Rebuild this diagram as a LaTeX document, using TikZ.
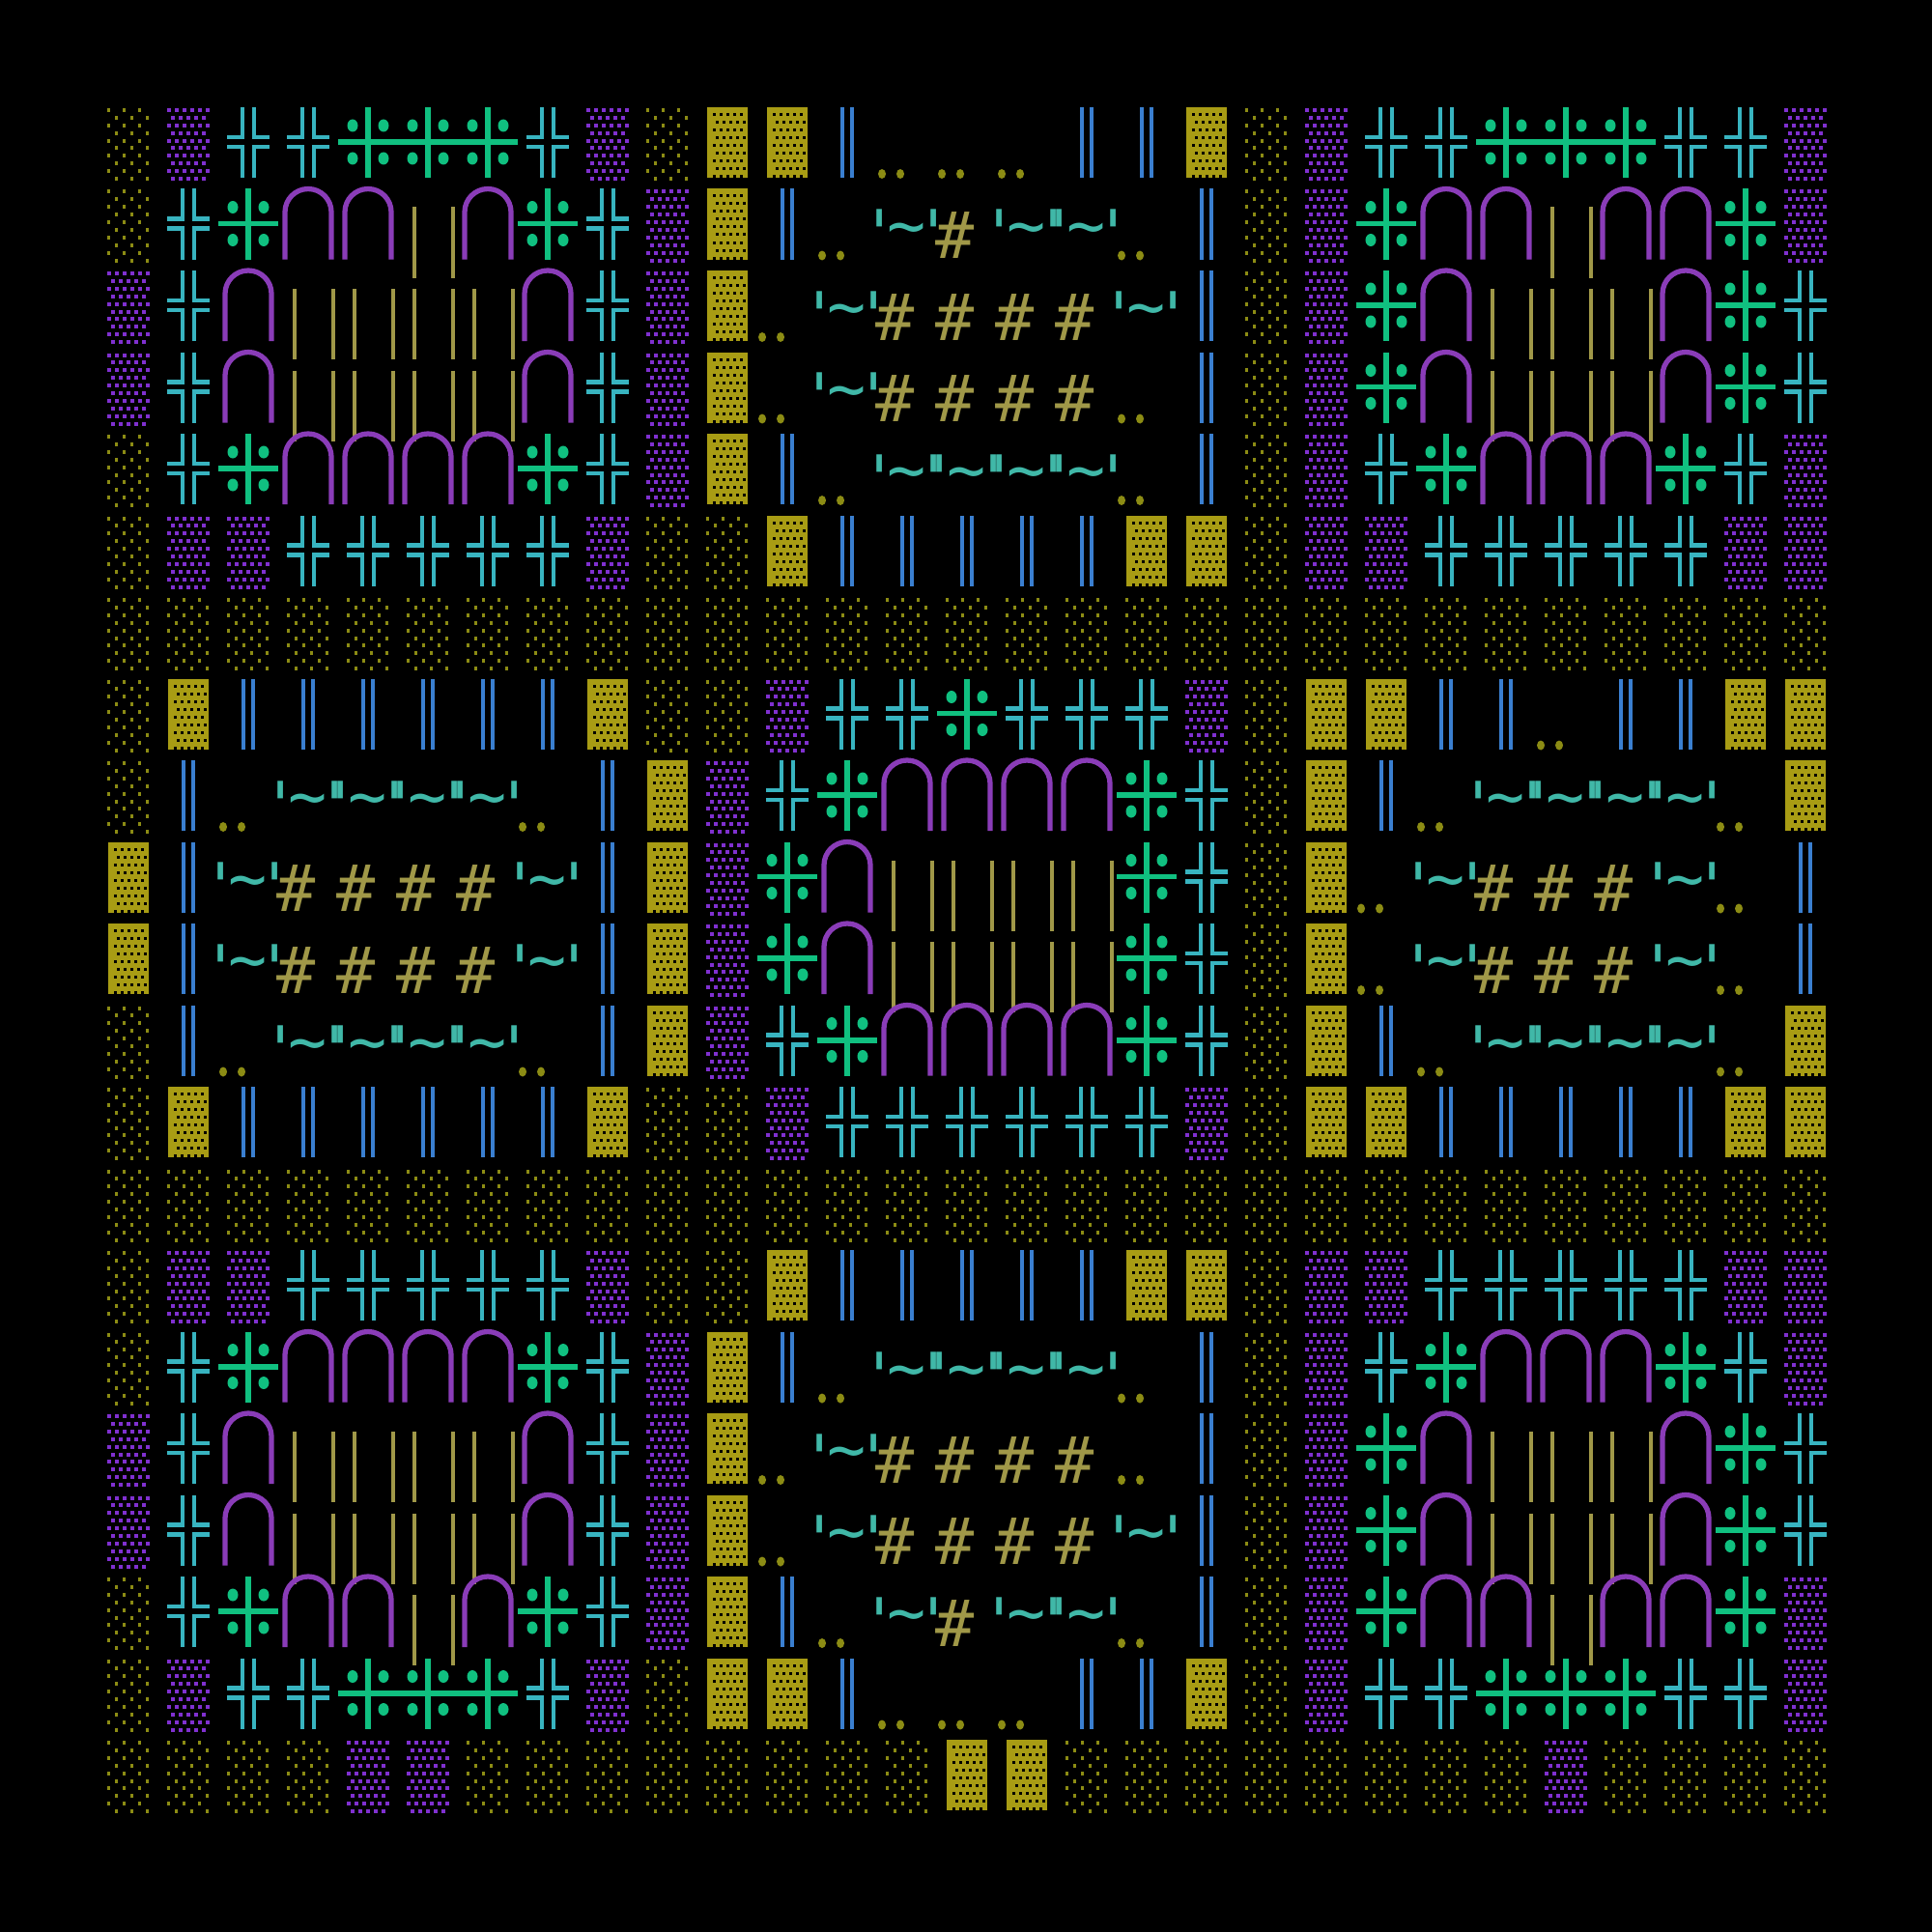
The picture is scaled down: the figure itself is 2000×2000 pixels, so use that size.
\documentclass[tikz,border=0pt]{standalone}
\usepackage{fontspec}
\newfontfamily\glyphfont[Ligatures=TeXOff]{DejaVu Sans Mono}
\definecolor{dotolive}{HTML}{8C8C14}
\definecolor{dotpurple}{HTML}{8030D0}
\definecolor{blockyellow}{HTML}{A89C14}
\definecolor{wallblue}{HTML}{3A7FD0}
\definecolor{crosscyan}{HTML}{38B4C0}
\definecolor{crossgreen}{HTML}{10C080}
\definecolor{archpurple}{HTML}{8A3CB8}
\definecolor{barolive}{HTML}{A09848}
\definecolor{waveteal}{HTML}{40B8A8}
\tikzset{
	glyphtext/.style={inner sep=0pt, font=\glyphfont\fontsize{19}{19}\selectfont},
	quote/.style={glyphtext, anchor=north, text=waveteal},
	wave/.style={glyphtext, text=waveteal},
	hash/.style={glyphtext, anchor=south, text=barolive}
}
% one macro per kind of cell
\newcommand\glyphd{\foreach \i in {0,...,9}{
	\pgfmathsetmacro\yy{-33+7.9*\i}\pgfmathsetmacro\xs{mod(\i,2)*8}
	\foreach \xx in {-21,-5,11}{\fill[dotolive] (\xx+\xs-1.5,\yy-2) rectangle +(3,4);}}}
\newcommand\glyphp{\foreach \i in {0,...,9}{
	\pgfmathsetmacro\yy{-33+7.9*\i}
	\ifodd\i \def\xlist{-16,-8,0,8,16}\else \def\xlist{-20,-12,-4,4,12,20}\fi
	\foreach \xx in \xlist {\fill[dotpurple] (\xx-2,\yy-2) rectangle +(4,4);}}}
\newcommand\glyphY{\fill[blockyellow] (-21,-36) rectangle (21,37);
	\foreach \i in {0,...,8}{\pgfmathsetmacro\yy{-30+8*\i}\pgfmathsetmacro\xs{mod(\i,2)*3}
	\foreach \xx in {-15,-8,-1,6,13}{\fill[black] (\xx+\xs,\yy) rectangle +(3,3);}}}
\newcommand\glyphB{\draw[wallblue, line width=1.3pt] (-5,-36) -- (-5,37) (5,-36) -- (5,37);}
\newcommand\glyphC{\draw[crosscyan, line width=1.4pt]
	(-6,-36) -- (-6,-5) -- (-22,-5) (6,-36) -- (6,-5) -- (22,-5)
	(-6,37) -- (-6,5) -- (-22,5) (6,37) -- (6,5) -- (22,5);}
\newcommand\glyphG{\draw[crossgreen, line width=1.7pt] (-31,0) -- (31,0) (0,-36) -- (0,37);
	\foreach \sx in {-16,16}{\foreach \sy in {-17,17}{\fill[crossgreen] (\sx,\sy) ellipse (5.5 and 6.5);}}}
\newcommand\glyphA{\draw[archpurple, line width=1.5pt] (-24,37) -- (-24,-12) arc (180:360:24) -- (24,37);}
\newcommand\glyphL{\draw[barolive, line width=1.1pt] (-14,-17) -- (-14,56) (26,-17) -- (26,56);}
\newcommand\glyphD{\fill[dotolive] (-26,33) ellipse (4 and 5) (-7,33) ellipse (4 and 5);}
\newcommand\glyphT{\node[quote] (ql\r-\c) at (-28,-15) {'};
	\node[wave] (w\r-\c) at (0,12) {\textasciitilde};
	\node[quote] (qr\r-\c) at (28,-15) {'};}
\newcommand\glyphH{\node[hash] (h\r-\c) at (-12,37) {\#};}

\begin{document}
\begin{tikzpicture}[x=0.01cm, y=-0.01cm]
\fill[black] (0,0) rectangle (2000,2000);
\useasboundingbox (0,0) rectangle (2000,2000);
\foreach \rowlist [count=\r from 0] in {
	{d,p,C,C,G,G,G,C,p,d,Y,Y,B,D,D,D,B,B,Y,d,p,C,C,G,G,G,C,C,p},
	{d,C,G,A,A,L,A,G,C,p,Y,B,D,T,H,T,T,D,B,d,p,G,A,A,L,A,A,G,p},
	{p,C,A,L,L,L,L,A,C,p,Y,D,T,H,H,H,H,T,B,d,p,G,A,L,L,L,A,G,C},
	{p,C,A,L,L,L,L,A,C,p,Y,D,T,H,H,H,H,D,B,d,p,G,A,L,L,L,A,G,C},
	{d,C,G,A,A,A,A,G,C,p,Y,B,D,T,T,T,T,D,B,d,p,C,G,A,A,A,G,C,p},
	{d,p,p,C,C,C,C,C,p,d,d,Y,B,B,B,B,B,Y,Y,d,p,p,C,C,C,C,C,p,p},
	{d,d,d,d,d,d,d,d,d,d,d,d,d,d,d,d,d,d,d,d,d,d,d,d,d,d,d,d,d},
	{d,Y,B,B,B,B,B,B,Y,d,d,p,C,C,G,C,C,C,p,d,Y,Y,B,B,D,B,B,Y,Y},
	{d,B,D,T,T,T,T,D,B,Y,p,C,G,A,A,A,A,G,C,d,Y,B,D,T,T,T,T,D,Y},
	{Y,B,T,H,H,H,H,T,B,Y,p,G,A,L,L,L,L,G,C,d,Y,D,T,H,H,H,T,D,B},
	{Y,B,T,H,H,H,H,T,B,Y,p,G,A,L,L,L,L,G,C,d,Y,D,T,H,H,H,T,D,B},
	{d,B,D,T,T,T,T,D,B,Y,p,C,G,A,A,A,A,G,C,d,Y,B,D,T,T,T,T,D,Y},
	{d,Y,B,B,B,B,B,B,Y,d,d,p,C,C,C,C,C,C,p,d,Y,Y,B,B,B,B,B,Y,Y},
	{d,d,d,d,d,d,d,d,d,d,d,d,d,d,d,d,d,d,d,d,d,d,d,d,d,d,d,d,d},
	{d,p,p,C,C,C,C,C,p,d,d,Y,B,B,B,B,B,Y,Y,d,p,p,C,C,C,C,C,p,p},
	{d,C,G,A,A,A,A,G,C,p,Y,B,D,T,T,T,T,D,B,d,p,C,G,A,A,A,G,C,p},
	{p,C,A,L,L,L,L,A,C,p,Y,D,T,H,H,H,H,D,B,d,p,G,A,L,L,L,A,G,C},
	{p,C,A,L,L,L,L,A,C,p,Y,D,T,H,H,H,H,T,B,d,p,G,A,L,L,L,A,G,C},
	{d,C,G,A,A,L,A,G,C,p,Y,B,D,T,H,T,T,D,B,d,p,G,A,A,L,A,A,G,p},
	{d,p,C,C,G,G,G,C,p,d,Y,Y,B,D,D,D,B,B,Y,d,p,C,C,G,G,G,C,C,p},
	{d,d,d,d,p,p,d,d,d,d,d,d,d,d,Y,Y,d,d,d,d,d,d,d,d,p,d,d,d,d}} {
	\foreach \code [count=\c from 0] in \rowlist {
		\begin{scope}[shift={(133+62*\c,147+84.5*\r)}]
			\csname glyph\code\endcsname
		\end{scope}
	}
}
\end{tikzpicture}
\end{document}
